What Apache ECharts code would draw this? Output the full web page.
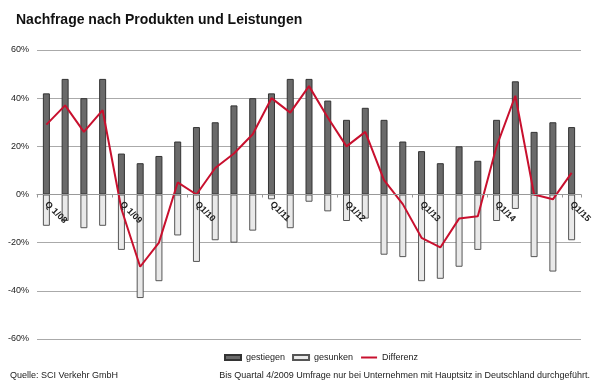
<!DOCTYPE html>
<html>
<head>
<meta charset="utf-8">
<script src="https://cdn.jsdelivr.net/npm/echarts@6/dist/echarts.min.js"></script>
<style>html,body{margin:0;padding:0;background:#fff}#c{width:600px;height:387px}</style>
</head>
<body>
<div id="c"></div>
<script>
var categories = ["Q1/08","Q2/08","Q3/08","Q4/08","Q1/09","Q2/09","Q3/09","Q4/09","Q1/10","Q2/10","Q3/10","Q4/10","Q1/11","Q2/11","Q3/11","Q4/11","Q1/12","Q2/12","Q3/12","Q4/12","Q1/13","Q2/13","Q3/13","Q4/13","Q1/14","Q2/14","Q3/14","Q4/14","Q1/15"];
var tickLabels = {0:"Q 1/08",4:"Q 1/09",8:"Q1/10",12:"Q1/11",16:"Q1/12",20:"Q1/13",24:"Q1/14",28:"Q1/15"};
var gestiegen = [42,48,40,48,17,13,16,22,28,30,37,40,42,48,48,39,31,36,31,22,18,13,20,14,31,47,26,30,28];
var gesunken = [-13,-11,-14,-13,-23,-43,-36,-17,-28,-19,-20,-15,-2,-14,-3,-7,-11,-10,-25,-26,-36,-35,-30,-23,-11,-6,-26,-32,-19];
var differenz = [29,37,26,35,-6,-30,-20,5,0,11,17,25,40,34,45,32,20,26,6,-4,-18,-22,-10,-9,20,41,0,-2,9];
var yTicks = {min:-60, max:60, step:20};

var chart = echarts.init(document.getElementById('c'), null, {renderer:'canvas'});
var ff = 'Arial, "Liberation Sans", sans-serif';
chart.setOption({
  animation:false,
  backgroundColor:'#fff',
  textStyle:{fontFamily:ff},
  title:{text:'Nachfrage nach Produkten und Leistungen', left:11, top:8,
    textStyle:{fontSize:14, fontWeight:'bold', color:'#111', fontFamily:ff}},
  legend:{left:219, top:348, itemWidth:16, itemHeight:5, itemGap:7,
    textStyle:{fontSize:9, color:'#222'},
    data:[{name:'gestiegen', icon:'rect'},{name:'gesunken', icon:'rect'},
      {name:'Differenz', itemStyle:{opacity:0}, lineStyle:{width:2, color:'#c8102e'}}]},
  grid:{left:37, right:19, top:50, bottom:48, containLabel:false},
  xAxis:{type:'category', data:categories, boundaryGap:true, z:10,
    axisLine:{onZero:true, lineStyle:{color:'#999', width:1}},
    axisTick:{show:true, length:3, lineStyle:{color:'#999'}},
    axisLabel:{interval:function(i){return tickLabels[i]!==undefined;}, rotate:-45, margin:-136,
      align:'left', verticalAlign:'middle',
      fontSize:9, fontWeight:'bold', color:'#222',
      formatter:function(v,i){return tickLabels[i]||'';}},
    splitLine:{show:false}},
  yAxis:{type:'value', min:yTicks.min, max:yTicks.max, interval:yTicks.step,
    axisLine:{show:false}, axisTick:{show:false},
    axisLabel:{formatter:'{value}%', fontSize:9, color:'#222', margin:8},
    splitLine:{lineStyle:{color:'#aaa', width:1}}},
  graphic:[
    {type:'text', left:10, top:371, style:{text:'Quelle: SCI Verkehr GmbH', fontSize:9, fill:'#222', fontFamily:ff}},
    {type:'text', right:10, top:371, style:{text:'Bis Quartal 4/2009 Umfrage nur bei Unternehmen mit Hauptsitz in Deutschland durchgeführt.', fontSize:9, fill:'#222', fontFamily:ff}}
  ],
  series:[
    {name:'gestiegen', type:'bar', data:gestiegen, barWidth:7, barGap:'-100%',
      itemStyle:{color:'#6a6a6a', borderColor:'#333', borderWidth:1}},
    {name:'gesunken', type:'bar', data:gesunken, barWidth:7, barGap:'-100%',
      itemStyle:{color:'#e9e9e9', borderColor:'#555', borderWidth:1}},
    {name:'Differenz', type:'line', data:differenz, symbol:'none', z:5,
      lineStyle:{color:'#c8102e', width:2}, itemStyle:{color:'#c8102e'}}
  ]
});
</script>
</body>
</html>
